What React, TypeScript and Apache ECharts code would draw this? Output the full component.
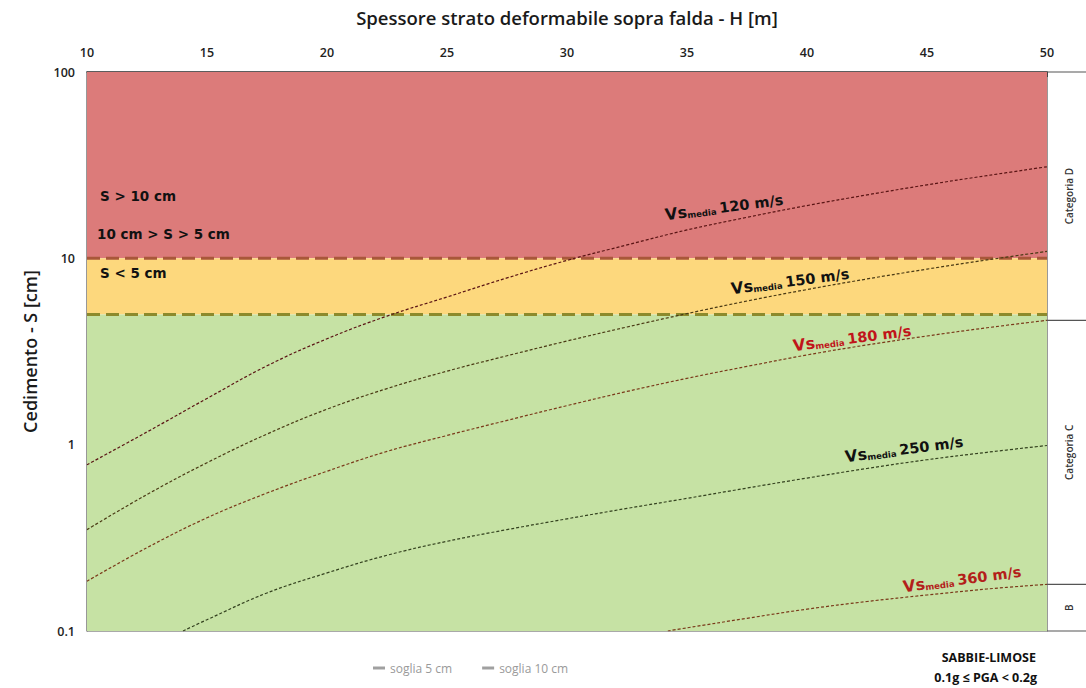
import React, { useEffect, useRef } from 'react';
import * as echarts from 'echarts';

// Spessore H [m]
const H_MAIN = [10, 12.5, 15, 17.5, 20, 22.5, 25, 27.5, 30, 32.5, 35, 37.5, 40, 42.5, 45, 47.5, 50];
// Cedimento S [cm]
const S_120 = [0.78, 1.17, 1.77, 2.65, 3.7, 4.9, 6.2, 7.85, 9.75, 11.8, 14.2, 16.6, 19.2, 21.9, 24.8, 27.8, 31.0];
const S_150 = [0.35, 0.54, 0.8, 1.14, 1.55, 2.0, 2.48, 3.0, 3.6, 4.28, 5.05, 5.9, 6.8, 7.75, 8.75, 9.8, 10.9];
const S_180 = [0.185, 0.28, 0.405, 0.55, 0.72, 0.92, 1.12, 1.35, 1.62, 1.93, 2.27, 2.63, 3.03, 3.43, 3.83, 4.24, 4.65];
const H_250 = [14, 15, 17.5, 20, 22.5, 25, 27.5, 30, 32.5, 35, 37.5, 40, 42.5, 45, 47.5, 50];
const S_250 = [0.1, 0.115, 0.16, 0.205, 0.255, 0.303, 0.35, 0.4, 0.455, 0.515, 0.585, 0.662, 0.745, 0.83, 0.91, 0.99];
const H_360 = [34.2, 35, 37.5, 40, 42.5, 45, 47.5, 50];
const S_360 = [0.1, 0.104, 0.117, 0.131, 0.144, 0.156, 0.168, 0.178];

const THRESH_5 = 5;
const THRESH_10 = 10;
const X_TICKS = [10, 15, 20, 25, 30, 35, 40, 45, 50];
const Y_TICKS = [0.1, 1, 10, 100];

const zip = (xs: number[], ys: number[]) => xs.map((x, i) => [x, ys[i]]);

const FONT = "'Open Sans', 'Liberation Sans', sans-serif";
const BOLD = "'DejaVu Sans', 'Liberation Sans', sans-serif";

const curveLabel = (speed: string, color: string) => ({
  text: `{v|Vs}{s|media} {n|${speed}}`,
  rich: {
    v: { fontFamily: BOLD, fontWeight: 'bold', fontSize: 16, fill: color, verticalAlign: 'bottom', lineHeight: 18 },
    s: { fontFamily: BOLD, fontWeight: 'bold', fontSize: 8.5, fill: color, verticalAlign: 'bottom', lineHeight: 14 },
    n: { fontFamily: BOLD, fontWeight: 'bold', fontSize: 14.5, fill: color, verticalAlign: 'bottom', lineHeight: 18 },
  },
  align: 'center',
  verticalAlign: 'middle',
});

export default function App() {
  const ref = useRef<HTMLDivElement>(null);
  useEffect(() => {
    if (!ref.current) return;
    const chart = echarts.init(ref.current, undefined, { renderer: 'svg' });
    const curveStyle = (color: string) => ({ color, width: 1.2, type: [3, 2] as any });
    const option: any = {
      animation: false,
      backgroundColor: '#ffffff',
      grid: { left: 87, right: 39, top: 72, bottom: 57, show: true, borderColor: '#555', borderWidth: 1.2, backgroundColor: 'transparent' },
      legend: {
        data: ['soglia 5 cm', 'soglia 10 cm'],
        left: 368,
        top: 657,
        itemGap: 30,
        itemWidth: 12,
        itemHeight: 3,
        icon: 'rect',
        itemStyle: { color: '#a0a0a0' },
        textStyle: { color: '#9a9a9a', fontSize: 12, fontFamily: FONT },
      },
      xAxis: {
        type: 'value',
        position: 'top',
        min: 10,
        max: 50,
        interval: 5,
        name: 'Spessore strato deformabile sopra falda - H [m]',
        nameLocation: 'middle',
        nameGap: 45,
        nameTextStyle: { fontFamily: FONT, fontSize: 18.5, fontWeight: 600, color: '#1a1a1a' },
        axisLine: { show: true, lineStyle: { color: '#444', width: 1.5 } },
        axisTick: { show: true, inside: true, length: 5, lineStyle: { color: '#444' } },
        minorTick: { show: true, splitNumber: 5, length: 3, lineStyle: { color: '#555' } },
        axisLabel: { margin: 13, fontFamily: FONT, fontSize: 12.5, fontWeight: 600, color: '#222', customValues: X_TICKS },
        splitLine: { show: false },
      },
      yAxis: {
        type: 'log',
        logBase: 10,
        min: 0.1,
        max: 100,
        name: 'Cedimento - S [cm]',
        nameLocation: 'middle',
        nameGap: 48,
        nameTextStyle: { fontFamily: FONT, fontSize: 18, fontWeight: 600, color: '#1a1a1a' },
        axisLine: { show: true, lineStyle: { color: '#777', width: 1 } },
        axisTick: { show: false },
        axisLabel: {
          margin: 12,
          fontFamily: FONT,
          fontSize: 12.5,
          fontWeight: 600,
          color: '#222',
          formatter: (v: number) => (Y_TICKS.includes(Number(v.toPrecision(3))) ? String(Number(v.toPrecision(3))) : ''),
        },
        splitLine: { show: false },
      },
      series: [
        {
          name: 'bands',
          type: 'line',
          data: [],
          silent: true,
          markArea: {
            silent: true,
            data: [
              [{ yAxis: THRESH_10, itemStyle: { color: '#dc7b7a' } }, { yAxis: 100 }],
              [{ yAxis: THRESH_5, itemStyle: { color: '#fdd87d' } }, { yAxis: THRESH_10 }],
              [{ yAxis: 0.1, itemStyle: { color: '#c6e2a4' } }, { yAxis: THRESH_5 }],
            ],
          },
        },
        {
          name: 'soglia 10 cm',
          type: 'line',
          data: [[10, THRESH_10], [50, THRESH_10]],
          showSymbol: false,
          lineStyle: { color: '#a9573a', width: 3, type: [13, 6] },
          itemStyle: { color: '#a9573a' },
          z: 3,
        },
        {
          name: 'soglia 5 cm',
          type: 'line',
          data: [[10, THRESH_5], [50, THRESH_5]],
          showSymbol: false,
          lineStyle: { color: '#8c8a2c', width: 3, type: [13, 6] },
          itemStyle: { color: '#8c8a2c' },
          z: 3,
        },
        { name: '120', type: 'line', smooth: 0.4, showSymbol: false, data: zip(H_MAIN, S_120), lineStyle: curveStyle('#5a1414'), z: 4 },
        { name: '150', type: 'line', smooth: 0.4, showSymbol: false, data: zip(H_MAIN, S_150), lineStyle: curveStyle('#4a3a14'), z: 4 },
        { name: '180', type: 'line', smooth: 0.4, showSymbol: false, data: zip(H_MAIN, S_180), lineStyle: curveStyle('#7a3a1a'), z: 4 },
        { name: '250', type: 'line', smooth: 0.4, showSymbol: false, data: zip(H_250, S_250), lineStyle: curveStyle('#34421f'), z: 4 },
        { name: '360', type: 'line', smooth: 0.4, showSymbol: false, data: zip(H_360, S_360), lineStyle: curveStyle('#7a3a1a'), z: 4 },
      ],
    };
    chart.setOption(option);

    const yD = chart.convertToPixel({ yAxisIndex: 0 }, S_180[S_180.length - 1]) as number;
    const yB = chart.convertToPixel({ yAxisIndex: 0 }, S_360[S_360.length - 1]) as number;
    const yTop = chart.convertToPixel({ yAxisIndex: 0 }, 100) as number;
    const yBot = chart.convertToPixel({ yAxisIndex: 0 }, 0.1) as number;
    const xR = chart.convertToPixel({ xAxisIndex: 0 }, 50) as number;
    const lineSt = { stroke: '#555', lineWidth: 1.2 };
    const catText = (t: string, y: number) => ({
      type: 'text',
      x: 1069,
      y,
      rotation: Math.PI / 2,
      style: { text: t, fontFamily: FONT, fontWeight: 600, fontSize: 10, fill: '#333', align: 'center', verticalAlign: 'middle' },
    });
    const zoneText = (t: string, x: number, y: number) => ({
      type: 'text',
      x,
      y,
      z: 10,
      style: { text: t, fontFamily: BOLD, fontWeight: 'bold', fontSize: 13.5, fill: '#111', verticalAlign: 'middle' },
    });
    const vsText = (speed: string, color: string, x: number, y: number) => ({
      type: 'text',
      x,
      y,
      z: 10,
      rotation: 0.13,
      style: curveLabel(speed, color),
    });

    chart.setOption({
      graphic: [
        { type: 'line', shape: { x1: xR, y1: yTop, x2: 1086, y2: yTop }, style: lineSt },
        { type: 'line', shape: { x1: xR, y1: yD, x2: 1086, y2: yD }, style: lineSt },
        { type: 'line', shape: { x1: xR, y1: yB, x2: 1086, y2: yB }, style: lineSt },
        { type: 'line', shape: { x1: xR, y1: yBot, x2: 1086, y2: yBot }, style: lineSt },
        catText('Categoria D', (yTop + yD) / 2),
        catText('Categoria C', (yD + yB) / 2),
        catText('B', (yB + yBot) / 2),
        zoneText('S > 10 cm', 100, 196),
        zoneText('10 cm > S > 5 cm', 97, 234),
        zoneText('S < 5 cm', 100, 273),
        vsText('120 m/s', '#111', 724, 206),
        vsText('150 m/s', '#111', 790, 280),
        vsText('180 m/s', '#c0141a', 852, 337),
        vsText('250 m/s', '#111', 904, 448),
        vsText('360 m/s', '#b3201a', 962, 578),
        {
          type: 'text',
          x: 1036,
          y: 657,
          style: { text: 'SABBIE-LIMOSE', fontFamily: FONT, fontWeight: 'bold', fontSize: 12.5, fill: '#111', align: 'right', verticalAlign: 'middle' },
        },
        {
          type: 'text',
          x: 1037,
          y: 677,
          style: { text: '0.1g ≤ PGA < 0.2g', fontFamily: FONT, fontWeight: 'bold', fontSize: 12.5, fill: '#111', align: 'right', verticalAlign: 'middle' },
        },
      ],
    });
    return () => chart.dispose();
  }, []);
  return <div ref={ref} style={{ position: 'fixed', left: 0, top: 0, width: 1086, height: 688 }} />;
}
